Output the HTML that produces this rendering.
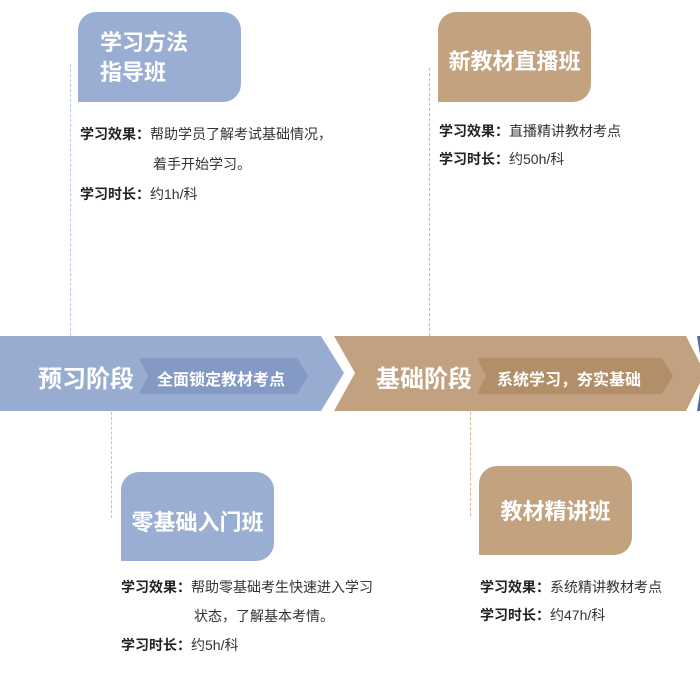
<!DOCTYPE html>
<html><head><meta charset="utf-8"><style>
body{margin:0;width:700px;height:687px;background:#fff;position:relative;overflow:hidden;font-family:"Liberation Sans","Noto Sans CJK SC",sans-serif}
.card{position:absolute;border-radius:18px 18px 18px 0;color:#fff;font-weight:bold;overflow:hidden}
.blue{background:#9aaed3}.brown{background:#c2a27f}
.card span{position:absolute;left:0;right:0;text-align:center}
.txt{position:absolute;font-size:14px;color:#333;line-height:28px}
.txt b{font-weight:bold;color:#222}
.dl{position:absolute;width:0;border-left:1px dashed}
.big{position:absolute;color:#fff;font-weight:bold;font-size:24px;top:359px}
.tag{position:absolute;color:#fff;font-weight:bold;font-size:16px;top:366px}
</style></head><body>
<div class="dl" style="left:70px;top:64px;height:272px;border-color:#b8c5e0"></div>
<div class="dl" style="left:429px;top:68px;height:268px;border-color:#d0b597"></div>
<div class="dl" style="left:111px;top:412px;height:106px;border-color:#b8c5e0"></div>
<div class="dl" style="left:470px;top:412px;height:104px;border-color:#d0b597"></div>

<div class="card blue" style="left:78px;top:12px;width:163px;height:90px;font-size:22px;line-height:30px"><span style="top:16px;text-align:left;left:22px">学习方法<br>指导班</span></div>
<div class="card brown" style="left:438px;top:12px;width:153px;height:90px;font-size:22px"><span style="top:32px">新教材直播班</span></div>
<div class="card blue" style="left:121px;top:472px;width:153px;height:89px;font-size:22px"><span style="top:33px">零基础入门班</span></div>
<div class="card brown" style="left:479px;top:466px;width:153px;height:89px;font-size:22px"><span style="top:28px">教材精讲班</span></div>

<svg style="position:absolute;left:0;top:0" width="700" height="687">
<polygon points="0,336 321,336 344,373 321,411 0,411" fill="#98acd1"/>
<polygon points="334,336 686,336 705,373 686,411 334,411 355,373" fill="#c1a17f"/>
<polygon points="697,336 700,336 700,355" fill="#56699a"/>
<polygon points="697,411 700,411 700,392" fill="#56699a"/>
<polygon points="139,358 297,358 308,376 297,394 139,394 148,376" fill="#8499c4"/>
<polygon points="477,358 662,358 673,376 662,394 477,394 486,376" fill="#b28f69"/>
</svg>
<div class="big" style="left:38px">预习阶段</div>
<div class="tag" style="left:157px">全面锁定教材考点</div>
<div class="big" style="left:376px">基础阶段</div>
<div class="tag" style="left:497px">系统学习，夯实基础</div>

<div class="txt" style="left:80px;top:119px;line-height:30px"><b>学习效果：</b>帮助学员了解考试基础情况，<br><span style="padding-left:73px">着手开始学习。</span><br><b>学习时长：</b>约1h/科</div>
<div class="txt" style="left:439px;top:117px"><b>学习效果：</b>直播精讲教材考点<br><b>学习时长：</b>约50h/科</div>
<div class="txt" style="left:121px;top:573px;line-height:29px"><b>学习效果：</b>帮助零基础考生快速进入学习<br><span style="padding-left:73px">状态，了解基本考情。</span><br><b>学习时长：</b>约5h/科</div>
<div class="txt" style="left:480px;top:573px"><b>学习效果：</b>系统精讲教材考点<br><b>学习时长：</b>约47h/科</div>
</body></html>
